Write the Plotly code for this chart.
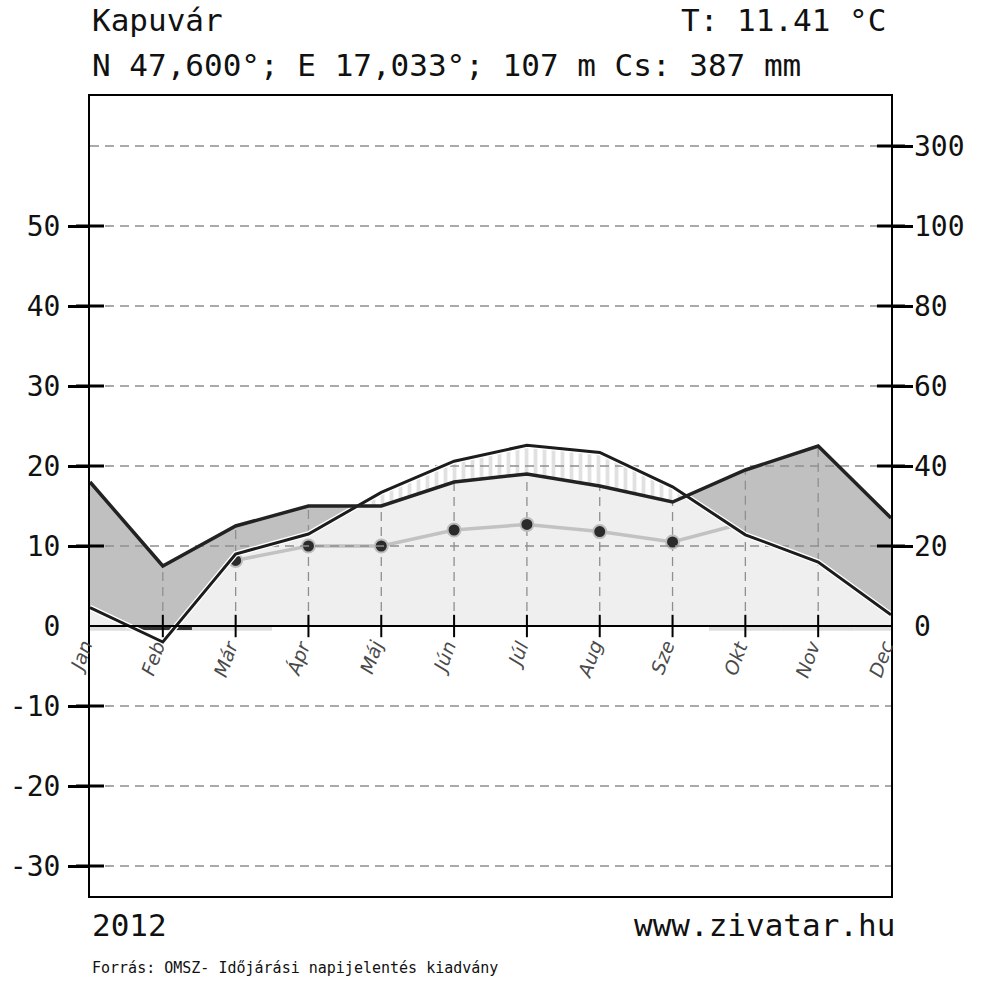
import numpy as np
import plotly.graph_objects as go

# ---------------- data ----------------
months = ["Jan", "Feb", "Már", "Ápr", "Máj", "Jún", "Júl", "Aug", "Sze", "Okt", "Nov", "Dec"]
temp = [2.3, -2.0, 9.0, 11.5, 16.7, 20.6, 22.6, 21.7, 17.4, 11.4, 8.0, 1.4]      # °C
precip = [36, 15, 25, 30, 30, 36, 38, 35, 31, 39, 45, 27]                         # mm
dot_months = ["Már", "Ápr", "Máj", "Jún", "Júl", "Aug", "Sze", "Okt"]
dot_values = [8.2, 10.0, 10.0, 12.0, 12.7, 11.8, 10.5, 12.9]
frost_light_months = ["Jan", "Feb", "Már", "Okt", "Nov", "Dec"]
frost_dark_months = ["Feb"]
temp_ticks = [50, 40, 30, 20, 10, 0, -10, -20, -30]
precip_ticks = [300, 100, 80, 60, 40, 20, 0]
grid_temp_levels = [60, 50, 40, 30, 20, 10, -10, -20, -30]

title_station = "Kapuvár"
title_mean = "T: 11.41 °C"
title_coords = "N 47,600°; E 17,033°; 107 m Cs: 387 mm"
year_text = "2012"
site_text = "www.zivatar.hu"
source_text = "Forrás: OMSZ- Időjárási napijelentés kiadvány"

# ---------------- helpers ----------------
def pscale(p):
    return p / 2.0 if p <= 100 else 50 + (p - 100) / 20.0

idx = np.arange(len(months), dtype=float)
T = np.array(temp, dtype=float)
P = np.array([pscale(p) for p in precip])
mi = {m: i for i, m in enumerate(months)}

# dense x with crossing points so fills are exact polygons
xs = []
for i in range(len(months) - 1):
    xs.append(idx[i])
    cands = []
    d0, d1 = T[i] - P[i], T[i + 1] - P[i + 1]
    if d0 * d1 < 0:
        cands.append(i + d0 / (d0 - d1))
    if T[i] * T[i + 1] < 0:
        cands.append(i + T[i] / (T[i] - T[i + 1]))
    xs.extend(sorted(cands))
xs.append(idx[-1])
xs = np.array(xs)
Tx = np.interp(xs, idx, T)
Px = np.interp(xs, idx, P)

MONO = "DejaVu Sans Mono"
GRID = dict(color="#8f8f8f", width=1.3, dash="9px,6px")
fig = go.Figure()

# frost bars below the zero line
fig.add_trace(go.Bar(x=[mi[m] for m in frost_light_months], y=[-0.6] * len(frost_light_months),
                     base=0, width=1.0, marker=dict(color="#dedede", line=dict(width=0)),
                     hoverinfo="skip"))
fig.add_trace(go.Bar(x=[mi[m] for m in frost_dark_months], y=[-0.5] * len(frost_dark_months),
                     base=0, width=0.8, marker=dict(color="#333333", line=dict(width=0)),
                     hoverinfo="skip"))

# light grey area up to min(T,P)
fig.add_trace(go.Scatter(x=xs, y=np.minimum(np.maximum(Tx, 0), Px), mode="lines",
                         line=dict(width=0), fill="tozeroy", fillcolor="#efefef", hoverinfo="skip"))

# vertical dashed month lines from 0 to precipitation
vx, vy = [], []
for i in range(1, len(months) - 1):
    vx += [idx[i], idx[i], None]
    vy += [0, P[i], None]
fig.add_trace(go.Scatter(x=vx, y=vy, mode="lines", line=GRID, hoverinfo="skip"))

# dotted series
fig.add_trace(go.Scatter(x=[mi[m] for m in dot_months], y=dot_values, mode="lines+markers",
                         line=dict(color="#c2c2c2", width=3.5),
                         marker=dict(size=13, color="#2b2b2b", line=dict(color="#bdbdbd", width=2)),
                         hoverinfo="skip"))

# humid area (dark grey)
lo = np.maximum(Tx, 0)
fig.add_trace(go.Scatter(x=xs, y=lo, mode="lines", line=dict(width=0), hoverinfo="skip"))
fig.add_trace(go.Scatter(x=xs, y=np.maximum(Px, lo), mode="lines", line=dict(width=0),
                         fill="tonexty", fillcolor="#c0c0c0", hoverinfo="skip"))

# dashed month lines again where they cross the humid area
hx, hy = [], []
for i in range(1, len(months) - 1):
    base = max(T[i], 0)
    if P[i] > base:
        hx += [idx[i], idx[i], None]
        hy += [base, P[i], None]
fig.add_trace(go.Scatter(x=hx, y=hy, mode="lines", line=GRID, hoverinfo="skip"))

# arid area (hatched)
fig.add_trace(go.Scatter(x=xs, y=Px, mode="lines", line=dict(width=0), hoverinfo="skip"))
fig.add_trace(go.Scatter(x=xs, y=np.maximum(Tx, Px), mode="lines", line=dict(width=0),
                         fill="tonexty", fillcolor="white",
                         fillpattern=dict(shape="|", fgcolor="#c4c4c4", bgcolor="white",
                                          size=9, solidity=0.42),
                         hoverinfo="skip"))

# horizontal dashed grid
gx, gy = [], []
for v in grid_temp_levels:
    gx += [idx[0], idx[-1], None]
    gy += [v, v, None]
fig.add_trace(go.Scatter(x=gx, y=gy, mode="lines", line=GRID, hoverinfo="skip"))

# temperature line (with white halo)
fig.add_trace(go.Scatter(x=idx, y=T, mode="lines", line=dict(color="white", width=5.5), hoverinfo="skip"))
fig.add_trace(go.Scatter(x=idx, y=T, mode="lines", line=dict(color="#1c1c1c", width=3), hoverinfo="skip"))
# precipitation line
fig.add_trace(go.Scatter(x=idx, y=P, mode="lines", line=dict(color="#222222", width=3.5), hoverinfo="skip"))

# zero line
fig.add_trace(go.Scatter(x=[idx[0], idx[-1]], y=[0, 0], mode="lines", line=dict(color="black", width=2),
                         hoverinfo="skip"))
# month ticks on zero line
fig.add_trace(go.Scatter(x=idx[1:-1], y=[0] * (len(months) - 2), mode="markers",
                         marker=dict(symbol="line-ns", size=16, line=dict(color="black", width=2)),
                         cliponaxis=False, hoverinfo="skip"))
# inner parts of axis ticks
lt = [v for v in temp_ticks if v != 0]
rt = [pscale(p) for p in precip_ticks if p != 0]
fig.add_trace(go.Scatter(x=[idx[0]] * len(lt), y=lt, mode="markers",
                         marker=dict(symbol="line-ew", size=20, line=dict(color="black", width=3)),
                         cliponaxis=False, hoverinfo="skip"))
fig.add_trace(go.Scatter(x=[idx[-1]] * len(rt), y=rt, mode="markers",
                         marker=dict(symbol="line-ew", size=20, line=dict(color="black", width=3)),
                         cliponaxis=False, hoverinfo="skip"))

# invisible traces so the overlay axes get drawn
for ax in ["y2", "y3", "y4"]:
    fig.add_trace(go.Scatter(x=[idx[0]], y=[0], yaxis=ax, mode="markers",
                             marker=dict(size=1, opacity=0), hoverinfo="skip"))

# month labels
for i, m in enumerate(months):
    fig.add_annotation(x=idx[i], y=0, xref="x", yref="y", text=m, showarrow=False,
                       textangle=-70, xanchor="right", yanchor="top", xshift=9, yshift=-9,
                       font=dict(family="DejaVu Sans", size=19, color="#4a4a4a", style="italic"))

yr = [-33.75, 66.25]
tickfont = dict(family=MONO, size=28, color="#111111")
fig.update_layout(
    width=981, height=981,
    margin=dict(l=90, r=90, t=96, b=85, autoexpand=False),
    paper_bgcolor="white", plot_bgcolor="white",
    showlegend=False, barmode="overlay",
    xaxis=dict(range=[idx[0], idx[-1]], showgrid=False, zeroline=False, showticklabels=False,
               ticks="", showline=True, mirror=True, linecolor="black", linewidth=2, automargin=False),
    yaxis=dict(range=yr, tickvals=temp_ticks, ticktext=[str(v) for v in temp_ticks], ticks="",
               showgrid=False, zeroline=False, showline=True, mirror=True, linecolor="black",
               linewidth=2, tickfont=tickfont, ticklabelstandoff=22, automargin=False),
    yaxis3=dict(range=yr, overlaying="y", side="left", tickvals=lt, ticks="outside", ticklen=21,
                tickwidth=3, tickcolor="black", showticklabels=False, showgrid=False, zeroline=False,
                showline=False, automargin=False),
    yaxis2=dict(range=yr, overlaying="y", side="right", tickvals=[pscale(p) for p in precip_ticks],
                ticktext=[str(p) for p in precip_ticks], ticks="", showgrid=False, zeroline=False,
                showline=False, tickfont=tickfont, ticklabelstandoff=22, automargin=False),
    yaxis4=dict(range=yr, overlaying="y", side="right", tickvals=rt, ticks="outside", ticklen=21,
                tickwidth=3, tickcolor="black", showticklabels=False, showgrid=False, zeroline=False,
                showline=False, automargin=False),
)

big = dict(family=MONO, size=31, color="#111111")
fig.add_annotation(x=0, y=1.095, xref="paper", yref="paper", text=title_station, showarrow=False,
                   xanchor="left", yanchor="middle", font=big)
fig.add_annotation(x=1, y=1.095, xref="paper", yref="paper", text=title_mean, showarrow=False,
                   xanchor="right", yanchor="middle", xshift=-3, font=big)
fig.add_annotation(x=0, y=1.039, xref="paper", yref="paper", text=title_coords, showarrow=False,
                   xanchor="left", yanchor="middle", font=big)
fig.add_annotation(x=0, y=-0.036, xref="paper", yref="paper", text=year_text, showarrow=False,
                   xanchor="left", yanchor="middle", font=big)
fig.add_annotation(x=1, y=-0.036, xref="paper", yref="paper", text=site_text, showarrow=False,
                   xanchor="right", yanchor="middle", xshift=6, font=big)
fig.add_annotation(x=0, y=-0.09, xref="paper", yref="paper", text=source_text, showarrow=False,
                   xanchor="left", yanchor="middle", font=dict(family=MONO, size=15, color="#111111"))

fig.write_html("out.html", post_script="document.body.style.margin='0';",
               config={"displayModeBar": False})
